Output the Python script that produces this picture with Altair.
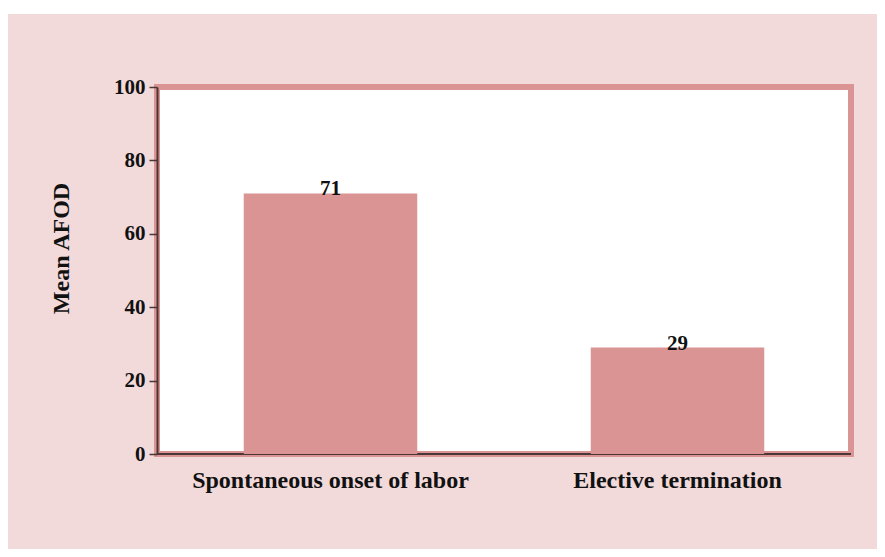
import altair as alt
import pandas as pd

categories = ["Spontaneous onset of labor", "Elective termination"]
values = [71, 29]
y_ticks = [0, 20, 40, 60, 80, 100]

W, H = 694, 367
FONT = "Liberation Serif"
PINK_BG = "#f2d9da"
BAR = "#d99493"
DARK = "#4a3636"

df = pd.DataFrame({"category": categories, "value": values})
one = pd.DataFrame({"k": [0]})

bg = alt.Chart(one).mark_rect(color=PINK_BG).encode(
    x=alt.value(-149), x2=alt.value(W + 60), y=alt.value(-73), y2=alt.value(H + 120)
)
plotbg = alt.Chart(one).mark_rect(color="white").encode(
    x=alt.value(0), x2=alt.value(W), y=alt.value(0), y2=alt.value(H)
)
border = alt.Chart(one).mark_rect(fillOpacity=0, stroke=BAR, strokeWidth=6).encode(
    x=alt.value(0), x2=alt.value(W), y=alt.value(0), y2=alt.value(H)
)
bottom = alt.Chart(one).mark_rule(color=DARK, strokeWidth=2).encode(
    x=alt.value(0), x2=alt.value(W), y=alt.value(H)
)

base = alt.Chart(df).encode(
    x=alt.X(
        "category:N",
        sort=categories,
        scale=alt.Scale(paddingInner=0.5, paddingOuter=0.25),
        axis=alt.Axis(
            title=None, labelAngle=0, ticks=False, domain=False,
            labelFont=FONT, labelFontWeight="bold", labelFontSize=24,
            labelColor="#111111", labelPadding=14, labelLimit=0, zindex=1,
        ),
    ),
    y=alt.Y(
        "value:Q",
        scale=alt.Scale(domain=[0, 100]),
        axis=alt.Axis(
            values=y_ticks, title="Mean AFOD", grid=False,
            labelFont=FONT, labelFontWeight="bold", labelFontSize=21,
            labelColor="#111111", labelPadding=4,
            tickSize=8, tickColor=DARK, tickWidth=1.5,
            domainColor=DARK, domainWidth=2,
            titleFont=FONT, titleFontWeight="bold", titleFontSize=24,
            titleColor="#111111", titlePadding=40, titleY=161, zindex=1,
        ),
    ),
)

bars = base.mark_bar(color=BAR)
labels = base.mark_text(
    baseline="alphabetic", dy=2, font=FONT, fontWeight="bold", fontSize=21, color="#111111"
).encode(text="value:Q")

chart = alt.layer(bg, plotbg, border, bottom, bars, labels).properties(
    width=W,
    height=H,
    autosize=alt.AutoSizeParams(type="none"),
    padding={"left": 149, "top": 79, "right": 26, "bottom": 95},
    background="white",
    title=alt.TitleParams(
        "IV.\u00a0\u00a0\u00a0\u00a0\u00a0\u00a0\u00a0Results And Analysis",
        font=FONT, fontWeight="bold", fontSize=24, color="#111111",
        anchor="middle", dx=-69, offset=72, baseline="bottom",
    ),
).configure_view(stroke=None)

chart.save("out.html", embed_options={"renderer": "svg", "actions": False})
